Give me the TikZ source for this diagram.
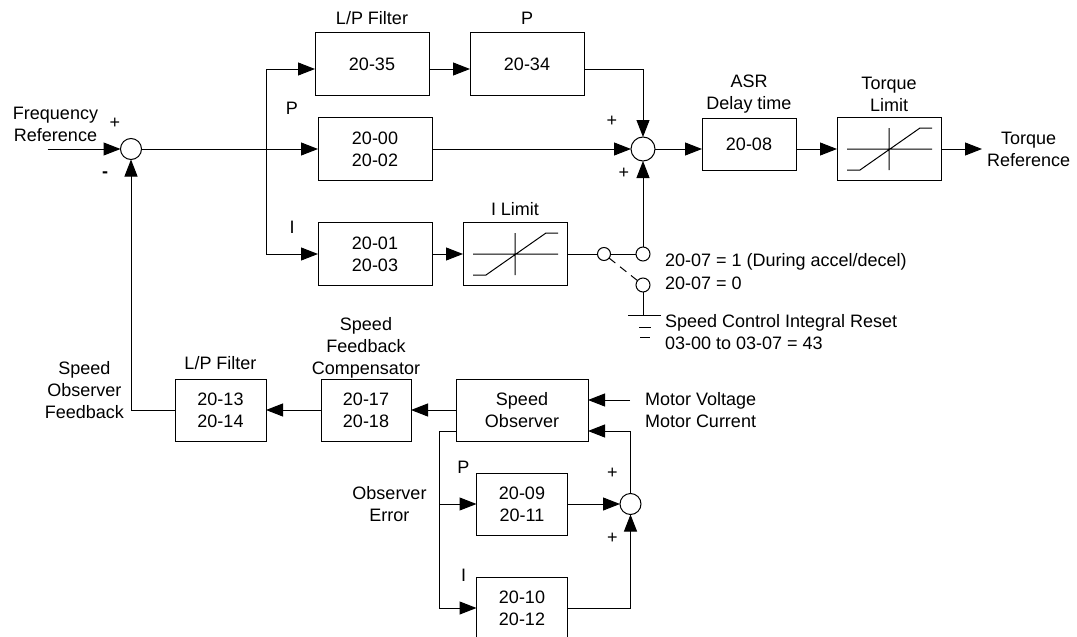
\documentclass[tikz,border=0pt]{standalone}
\usepackage{fontspec}
\setmainfont{Liberation Sans}
\usetikzlibrary{arrows.meta,positioning,calc}

\begin{document}
\begin{tikzpicture}[
    x=1pt,y=1pt,
    font=\fontsize{18}{22}\selectfont,
    wirebox/.style={draw,line width=1pt,inner sep=0pt,outer sep=0pt,align=center},
    gainbox/.style={wirebox,minimum width=114pt,minimum height=63pt},
    smallbox/.style={wirebox,minimum width=91pt,minimum height=62pt},
    satbox/.style={wirebox,minimum width=104pt,minimum height=63pt,
      path picture={
        \begin{scope}[shift={(path picture bounding box.center)}]
          \draw[line width=1pt] (-42,0) -- (43,0) (0,-21) -- (0,21) (-42,-21) -- (-29,-21) -- (31,21) -- (43,21);
        \end{scope}
      }},
    sumnode/.style={circle,draw,line width=1pt,fill=white,inner sep=0pt,outer sep=0pt,minimum size=21pt},
    swnode/.style={circle,draw,line width=1pt,fill=white,inner sep=0pt,outer sep=0pt,minimum size=14pt},
    lbl/.style={inner sep=0pt,outer sep=0pt,align=center},
    arr/.style={-{Triangle[length=17pt,width=13pt]},line width=1pt},
    wire/.style={line width=1pt},
  ]
    \useasboundingbox (0,0) rectangle (1077,-637);

    \node[sumnode] (sumin) at (131,-149) {};
    \node[gainbox,right=176.5pt of sumin] (pbox) {20-00\\20-02};
    \node[gainbox,above=22pt of pbox,xshift=-3pt] (lpbox) {20-35};
    \node[gainbox,right=41pt of lpbox] (pfbox) {20-34};
    \node[gainbox,below=42pt of pbox] (ibox) {20-01\\20-03};
    \node[satbox,right=31pt of ibox] (ilimit) {};
    \node[sumnode,minimum size=24pt,right=199pt of pbox] (sumout) {};
    \node[wirebox,minimum width=94pt,minimum height=52pt,right=47pt of sumout,yshift=5pt] (asr) {20-08};
    \node[satbox,right=182pt of sumout] (torque) {};
    \node[swnode,minimum size=13pt,right=30.5pt of ilimit] (swa) {};
    \node[swnode,right=25.5pt of swa] (swb) {};
    \node[swnode,below=17pt of swb] (swc) {};
    \coordinate[below=23pt of swc.south] (gnd);

    \node[smallbox,minimum width=132pt,below=93.5pt of ilimit,xshift=7pt] (obsbox) {Speed\\Observer};
    \node[smallbox,minimum width=90pt,left=45pt of obsbox] (cmpbox) {20-17\\20-18};
    \node[smallbox,left=55pt of cmpbox] (filtfb) {20-13\\20-14};
    \node[smallbox,below=32pt of obsbox] (pobs) {20-09\\20-11};
    \node[smallbox,below=42pt of pobs] (iobs) {20-10\\20-12};
    \node[sumnode,right=52.5pt of pobs] (sumobs) {};

    \coordinate[left=73pt of sumin] (freqin);
    \coordinate[left=52pt of pbox] (branch);
    \coordinate[left=37pt of pobs] (obsbranch);
    \coordinate[right=42pt of obsbox.east,yshift=10pt] (motorin);

    \node[lbl,above=7pt of freqin,xshift=8pt] (freqref) {Frequency\\Reference};
    \node[lbl,above=8pt of lpbox] (lplabel) {L/P Filter};
    \node[lbl,above=8pt of pfbox] (pflabel) {P};
    \node[lbl,left=20pt of pbox.north west,yshift=9.5pt] (plabel) {P};
    \node[lbl,left=23.5pt of ibox.north west,yshift=-4.5pt] (ilabel) {I};
    \node[lbl,above=7pt of ilimit] (ilimlabel) {I Limit};
    \node[lbl,above=5pt of asr] (asrlabel) {ASR\\Delay time};
    \node[lbl,above=6pt of torque] (torquelabel) {Torque\\Limit};
    \node[lbl,inner xsep=5pt,right=41pt of torque] (torqueref) {Torque\\Reference};
    \node[lbl,right=15pt of swb,yshift=-8pt] (swlabela) {20-07 = 1 (During accel/decel)};
    \node[lbl,right=15pt of swc,yshift=2pt] (swlabelb) {20-07 = 0};
    \node[lbl,align=left,right=22pt of gnd,yshift=-17pt] (resetlabel) {Speed Control Integral Reset\\03-00 to 03-07 = 43};
    \node[lbl,above=1pt of cmpbox] (cmplabel) {Speed\\Feedback\\Compensator};
    \node[lbl,above=9pt of filtfb] (filtlabel) {L/P Filter};
    \node[lbl,left=51pt of filtfb,yshift=20pt] (fblabel) {Speed\\Observer\\Feedback};
    \node[lbl,align=left,right=57pt of obsbox] (motorlabel) {Motor Voltage\\Motor Current};
    \node[lbl,left=13pt of obsbranch] (errlabel) {Observer\\Error};
    \node[lbl,left=7pt of pobs.north west,yshift=6pt] (pobslabel) {P};
    \node[lbl,left=10.5pt of iobs.north west,yshift=2pt] (iobslabel) {I};

    \node[lbl] (signa) at ($(sumin)+(-16,26)$) {+};
    \node[lbl] (signb) at ($(sumin)+(-26,-26)$) {\textbf{-}};
    \node[lbl] (signc) at ($(sumout)+(-31,28)$) {+};
    \node[lbl] (signd) at ($(sumout)+(-19,-24)$) {+};
    \node[lbl] (signe) at ($(sumobs)+(-18,31)$) {+};
    \node[lbl] (signf) at ($(sumobs)+(-18,-34)$) {+};

    \draw[arr] (freqin) -- (sumin);
    \draw[arr] (sumin) -- (pbox);
    \draw[arr] (branch) |- ([yshift=-5pt]lpbox.west);
    \draw[arr] (branch) |- (ibox.west);
    \draw[arr] ([yshift=-5pt]lpbox.east) -- ([yshift=-5pt]pfbox.west);
    \draw[arr] ([yshift=-5pt]pfbox.east) -| (sumout.north);
    \draw[arr] (pbox) -- (sumout);
    \draw[arr] (ibox) -- (ilimit);
    \draw[wire] (ilimit) -- (swa);
    \draw[wire] (swa) -- (swb);
    \draw[arr] (swb.north) -- (swb.north |- sumout.south);
    \draw[wire,dash pattern=on 8pt off 6pt] (swa) -- (swc);
    \draw[wire] (swc.south) -- (gnd);
    \draw[wire] ([xshift=-15pt]gnd) -- ([xshift=18pt]gnd);
    \draw[wire] ($(gnd)+(-4,-12)$) -- ($(gnd)+(8,-12)$);
    \draw[wire] ($(gnd)+(-3,-22)$) -- ($(gnd)+(7,-22)$);
    \draw[arr] (sumout.east) -- (sumout.east -| asr.west);
    \draw[arr] (sumout.east -| asr.east) -- (sumout.east -| torque.west);
    \draw[arr] (torque) -- (torqueref);
    \draw[arr] (motorin) -- (motorin -| obsbox.east);
    \draw[arr] (obsbox) -- (cmpbox);
    \draw[arr] (cmpbox) -- (filtfb);
    \draw[arr] (filtfb.west) -| (sumin.south);
    \draw[arr] ([yshift=-21pt]obsbox.west) -| (obsbranch) |- (iobs.west);
    \draw[arr] (obsbranch) -- (pobs);
    \draw[arr] (pobs) -- (sumobs);
    \draw[arr] (iobs.east) -| (sumobs.south);
    \draw[arr] (sumobs.north) |- ([yshift=-21pt]obsbox.east);
  \end{tikzpicture}
\end{document}
